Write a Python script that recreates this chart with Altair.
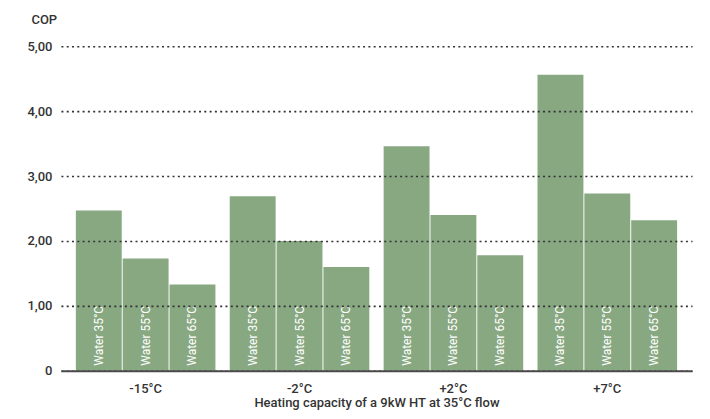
import altair as alt
import pandas as pd

groups = ["-15°C", "-2°C", "+2°C", "+7°C"]
series = ["Water 35°C", "Water 55°C", "Water 65°C"]
water35 = [2.47, 2.69, 3.46, 4.56]
water55 = [1.73, 2.00, 2.40, 2.73]
water65 = [1.33, 1.60, 1.78, 2.32]
y_ticks = [0, 1, 2, 3, 4, 5]

rows = []
for i, g in enumerate(groups):
    for s, vals in zip(series, [water35, water55, water65]):
        rows.append({"group": g, "series": s, "cop": vals[i]})
df = pd.DataFrame(rows)

FONT = "Roboto"
TXT = "#333333"

x_enc = alt.X(
    "group:N",
    sort=groups,
    scale=alt.Scale(paddingInner=0.093, paddingOuter=0.097),
    axis=alt.Axis(
        title="Heating capacity of a 9kW HT at 35°C flow",
        labelAngle=0,
        ticks=False,
        domainColor="#4a4a4a",
        domainWidth=2,
        labelPadding=12,
        labelFontSize=13,
        labelFontWeight=500,
        titleFontSize=13,
        titleFontWeight=500,
        titleY=36,
        titleBaseline="alphabetic",
        zindex=2,
    ),
)
xoff_enc = alt.XOffset("series:N", sort=series, scale=alt.Scale(paddingInner=0.02, paddingOuter=0))

y_enc = alt.Y(
    "cop:Q",
    scale=alt.Scale(domain=[0, 5], nice=False),
    axis=alt.Axis(
        values=y_ticks,
        title="COP",
        titleAngle=0,
        titleAlign="left",
        titleX=-30,
        titleY=-23,
        titleBaseline="alphabetic",
        titleFontSize=13,
        titleFontWeight=500,
        labelFontSize=13,
        labelFontWeight=500,
        labelExpr="datum.value == 0 ? '0' : replace(format(datum.value, '.2f'), '.', ',')",
        grid=True,
        gridDash=[2, 3.3],
        gridColor="#333333",
        gridWidth=1.6,
        domain=False,
        ticks=False,
        labelPadding=9,
        zindex=1,
    ),
)

bars = alt.Chart(df).mark_bar(color="#88a882").encode(
    x=x_enc, xOffset=xoff_enc, y=y_enc
)

labels = alt.Chart(df).mark_text(
    angle=270, align="left", baseline="middle", dx=5, color="white", fontSize=12, font=FONT
).encode(
    x=alt.X("group:N", sort=groups),
    xOffset=alt.XOffset("series:N", sort=series),
    y=alt.datum(0),
    text="series:N",
)

chart = (
    alt.layer(bars, labels)
    .properties(
        width=632,
        height=325,
        autosize=alt.AutoSizeParams(type="none"),
        padding={"left": 53, "top": 38, "right": 10, "bottom": 40},
    )
    .configure_view(stroke=None)
    .configure_axis(labelFont=FONT, titleFont=FONT, labelColor=TXT, titleColor=TXT)
)

chart.save("out.html", embed_options={"renderer": "svg", "actions": False})
